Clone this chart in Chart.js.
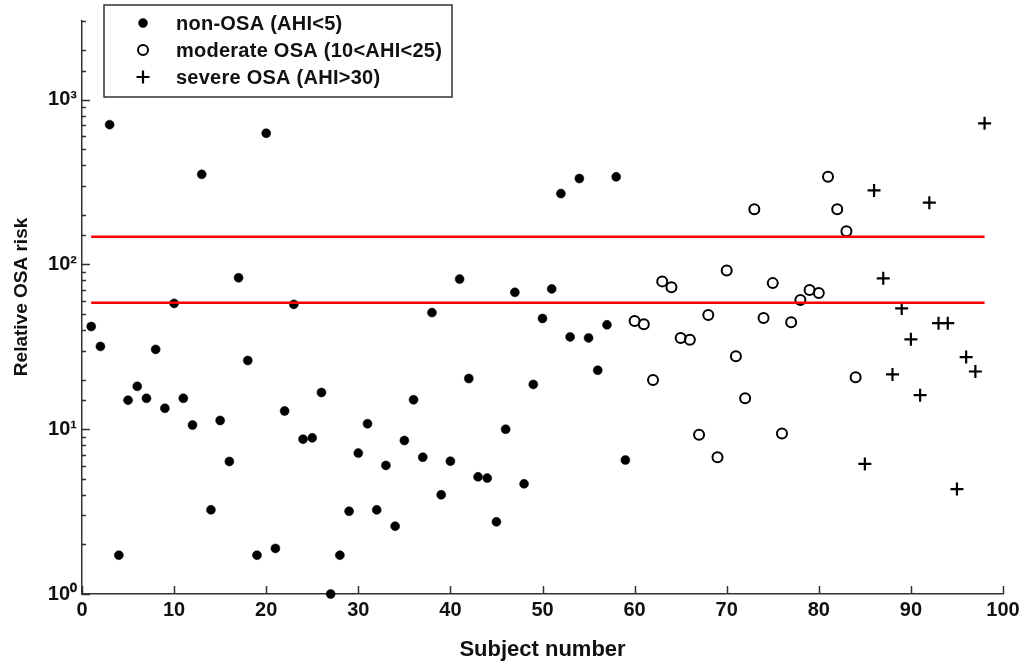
<!DOCTYPE html>
<html>
<head>
<meta charset="utf-8">
<script src="https://cdn.jsdelivr.net/npm/chart.js@4/dist/chart.umd.min.js"></script>
<style>
  html, body { margin: 0; padding: 0; background: #fff; }
  #wrap { width: 1024px; height: 665px; position: relative; }
</style>
</head>
<body>
<div id="wrap"><canvas id="riskChart" width="1024" height="665"></canvas></div>
<script>
// values
const nonOsaSubjects = [1, 2, 3, 4, 5, 6, 7, 8, 9, 10, 11, 12, 13, 14, 15, 16, 17, 18, 19, 20,
  21, 22, 23, 24, 25, 26, 27, 28, 29, 30, 31, 32, 33, 34, 35, 36, 37, 38, 39, 40,
  41, 42, 43, 44, 45, 46, 47, 48, 49, 50, 51, 52, 53, 54, 55, 56, 57, 58, 59];
const nonOsaRisk = [42, 31.8, 705, 1.72, 15, 18.2, 15.4, 30.5, 13.4, 58, 15.4, 10.6, 352, 3.24, 11.3, 6.37, 83, 26.1, 1.72, 625,
  1.89, 12.9, 57.2, 8.7, 8.86, 16.7, 1.0, 1.72, 3.18, 7.16, 10.8, 3.24, 6.03, 2.58, 8.54, 15.1, 6.76, 51, 4.0, 6.4,
  81.5, 20.3, 5.14, 5.05, 2.74, 10.0, 67.7, 4.66, 18.7, 47, 71, 269, 36.3, 332, 35.8, 22.8, 43, 340, 6.5];

const moderateSubjects = [60, 61, 62, 63, 64, 65, 66, 67, 68, 69, 70, 71, 72, 73, 74, 75, 76, 77, 78, 79, 80, 81, 82, 83, 84];
const moderateRisk = [45.3, 43.3, 19.9, 78.9, 72.8, 35.8, 34.9, 9.24, 49.3, 6.76, 92, 27.7, 15.4, 216, 47.3, 77, 9.42, 44.5, 60.8, 69.9, 67, 340, 216, 159, 20.7];

const severeSubjects = [85, 86, 87, 88, 89, 90, 91, 92, 93, 94, 95, 96, 97, 98];
const severeRisk = [6.16, 281, 82.3, 21.5, 54.1, 35.1, 16.1, 237, 44, 44, 4.33, 27.4, 22.4, 718];

const thresholds = [147, 58.5];
const thresholdSpan = [1, 98];

const seriesLabels = ['non-OSA (AHI<5)', 'moderate OSA (10<AHI<25)', 'severe OSA (AHI>30)'];
const xTicks = [0, 10, 20, 30, 40, 50, 60, 70, 80, 90, 100];
const supDigits = ['\u2070', '\u00b9', '\u00b2', '\u00b3'];

const FONT = "'Liberation Sans', Arial, Helvetica, sans-serif";
const AXIS = '#333';

function toPoints(xs, ys) {
  return xs.map((x, i) => ({ x: x, y: ys[i] }));
}

const thresholdSets = thresholds.map(v => ({
  label: 'threshold',
  data: thresholdSpan.map(x => ({ x: x, y: v })),
  showLine: true,
  borderColor: '#ff0000',
  borderWidth: 2.5,
  pointRadius: 0,
  order: 0,
  clip: false
}));

const markerSets = [
  {
    label: seriesLabels[0],
    data: toPoints(nonOsaSubjects, nonOsaRisk),
    pointStyle: 'circle',
    pointRadius: 4.5,
    pointBackgroundColor: '#000',
    pointBorderColor: '#000',
    pointBorderWidth: 0.5,
    order: 1,
    clip: false
  },
  {
    label: seriesLabels[1],
    data: toPoints(moderateSubjects, moderateRisk),
    pointStyle: 'circle',
    pointRadius: 5,
    pointBackgroundColor: 'rgba(0,0,0,0)',
    pointBorderColor: '#000',
    pointBorderWidth: 2,
    order: 1,
    clip: false
  },
  {
    label: seriesLabels[2],
    data: toPoints(severeSubjects, severeRisk),
    pointStyle: 'cross',
    pointRadius: 6.5,
    pointBorderColor: '#000',
    pointBorderWidth: 2.2,
    order: 1,
    clip: false
  }
];

// inward tick marks, like the original figure
const inwardTicks = {
  id: 'inwardTicks',
  afterDraw(chart) {
    const ctx = chart.ctx;
    const xs = chart.scales.x, ys = chart.scales.y;
    const area = chart.chartArea;
    ctx.save();
    ctx.strokeStyle = AXIS;
    ctx.lineWidth = 1.5;
    ctx.beginPath();
    xs.ticks.forEach(t => {
      const px = Math.round(xs.getPixelForValue(t.value)) + 0.5;
      ctx.moveTo(px, area.bottom);
      ctx.lineTo(px, area.bottom - 8);
    });
    ys.ticks.forEach(t => {
      const lg = Math.log10(t.value);
      const major = Math.abs(lg - Math.round(lg)) < 1e-9;
      const py = Math.round(ys.getPixelForValue(t.value)) + 0.5;
      ctx.moveTo(area.left, py);
      ctx.lineTo(area.left + (major ? 8 : 4), py);
    });
    ctx.stroke();
    ctx.restore();
  }
};

// boxed legend sitting inside the plot, top left
const boxLegend = {
  id: 'boxLegend',
  afterDraw(chart) {
    const ctx = chart.ctx;
    ctx.save();
    ctx.strokeStyle = AXIS;
    ctx.lineWidth = 1.5;
    ctx.fillStyle = '#fff';
    ctx.fillRect(104, 5, 348, 92);
    ctx.strokeRect(104, 5, 348, 92);
    ctx.font = 'bold 20px ' + FONT;
    ctx.letterSpacing = '0.25px';
    ctx.textBaseline = 'middle';
    ctx.textAlign = 'left';
    markerSets.forEach((ds, i) => {
      const y = 23 + i * 27;
      ctx.fillStyle = ds.pointBackgroundColor || '#000';
      ctx.strokeStyle = ds.pointBorderColor;
      ctx.lineWidth = ds.pointBorderWidth;
      Chart.helpers.drawPoint(ctx, {
        pointStyle: ds.pointStyle,
        radius: ds.pointRadius,
        borderWidth: ds.pointBorderWidth,
        rotation: 0
      }, 143, y);
      ctx.fillStyle = '#111';
      ctx.fillText(ds.label, 176, y + 1);
    });
    ctx.restore();
  }
};

new Chart(document.getElementById('riskChart'), {
  type: 'scatter',
  data: { datasets: thresholdSets.concat(markerSets) },
  options: {
    responsive: false,
    animation: false,
    events: [],
    layout: { padding: { top: 21, right: 21, left: 0, bottom: 0 } },
    plugins: {
      legend: { display: false },
      tooltip: { enabled: false }
    },
    scales: {
      x: {
        type: 'linear',
        min: 0,
        max: 100,
        afterFit(scale) { scale.height = 71; },
        afterBuildTicks(scale) { scale.ticks = xTicks.map(v => ({ value: v })); },
        grid: { display: false, drawTicks: false },
        border: { display: true, color: AXIS, width: 1.5 },
        ticks: {
          color: '#111',
          padding: 4,
          maxRotation: 0,
          autoSkip: false,
          font: { family: FONT, size: 20, weight: 'bold' }
        },
        title: {
          display: true,
          text: 'Subject number',
          color: '#111',
          padding: { top: 0, bottom: 2 },
          font: { family: FONT, size: 22, weight: 'bold' }
        }
      },
      y: {
        type: 'logarithmic',
        min: 1,
        max: 3000,
        afterFit(scale) { scale.width = 82; },
        grid: { display: false, drawTicks: false },
        border: { display: true, color: AXIS, width: 1.5 },
        ticks: {
          color: '#111',
          padding: 5,
          autoSkip: false,
          font: { family: FONT, size: 20, weight: 'bold' },
          callback(value) {
            const lg = Math.log10(value);
            if (Math.abs(lg - Math.round(lg)) > 1e-9) return '';
            return '10' + supDigits[Math.round(lg)];
          }
        },
        title: {
          display: true,
          text: '    Relative OSA risk',
          color: '#111',
          padding: { top: 10, bottom: 0 },
          font: { family: FONT, size: 19, weight: 'bold' }
        }
      }
    }
  },
  plugins: [inwardTicks, boxLegend]
});
</script>
</body>
</html>
